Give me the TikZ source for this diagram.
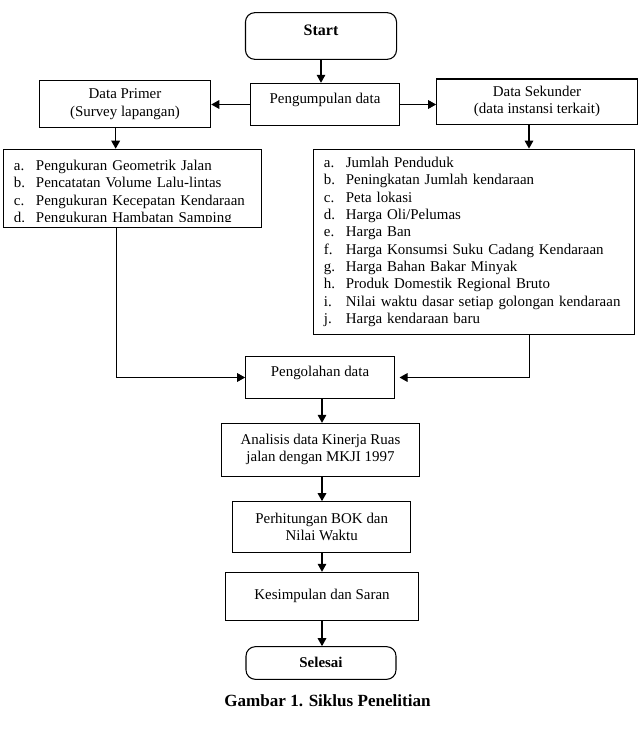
\documentclass[tikz,border=0pt]{standalone}
\usepackage{fontspec}
\setmainfont{Liberation Serif}
\usetikzlibrary{arrows.meta}
\newcommand{\itm}[2]{\makebox[16.5pt][l]{#1}#2}

\begin{document}
\begin{tikzpicture}[x=0.75pt,y=-0.75pt,
  every node/.style={font=\fontsize{11.2}{13}\selectfont},
  box/.style={draw,line width=0.8pt,inner sep=0pt,align=center},
  rbox/.style={box,rounded corners=7pt},
  listbox/.style={inner xsep=8pt,inner ysep=0pt,align=left},
  arr/.style={line width=0.8pt,-{Triangle[length=6pt,width=6.5pt]}}]
  \useasboundingbox (0,0) rectangle (641,732);

  \node[rbox,minimum width=113.3pt,minimum height=35pt,text height=8pt,text depth=8.5pt,
    font=\fontsize{12}{14}\selectfont\bfseries] (start) at (321,36) {Start};
  \node[box,minimum width=111.5pt,minimum height=31.8pt,text height=8pt,text depth=9.2pt] (peng) at (325,104.5) {Pengumpulan data};
  \node[box,minimum width=128.6pt,minimum height=35.3pt] (primer) at (125,104.2) {Data Primer\\(Survey lapangan)};
  \node[box,minimum width=150.5pt,minimum height=33.8pt] (sekunder) at (537,101.5) {Data Sekunder\\(data instansi terkait)};

  \node[box,minimum width=193.8pt,minimum height=58.7pt] (listA) at (132.5,188.4) {};
  \begin{scope}
    \clip (listA.north west) rectangle ([yshift=4.9pt]listA.south east);
    \node[listbox,text width=177.8pt] (listAtext) at (132.5,193) {
      \itm{a.}{Pengukuran Geometrik Jalan}\\
      \itm{b.}{Pencatatan Volume Lalu-lintas}\\
      \itm{c.}{Pengukuran Kecepatan Kendaraan}\\
      \itm{d.}{Pengukuran Hambatan Samping}};
  \end{scope}

  \node[box,listbox,minimum width=240.8pt,minimum height=139.3pt,text width=224.8pt] (listB) at (473.8,242) {
    \itm{a.}{Jumlah Penduduk}\\
    \itm{b.}{Peningkatan Jumlah kendaraan}\\
    \itm{c.}{Peta lokasi}\\
    \itm{d.}{Harga Oli/Pelumas}\\
    \itm{e.}{Harga Ban}\\
    \itm{f.}{Harga Konsumsi Suku Cadang Kendaraan}\\
    \itm{g.}{Harga Bahan Bakar Minyak}\\
    \itm{h.}{Produk Domestik Regional Bruto}\\
    \itm{i.}{Nilai waktu dasar setiap golongan kendaraan}\\
    \itm{j.}{Harga kendaraan baru}};

  \node[box,minimum width=111.5pt,minimum height=31.2pt,text height=8pt,text depth=8.8pt] (olah) at (320,377.5) {Pengolahan data};
  \node[box,minimum width=148.2pt,minimum height=39.5pt] (analisis) at (320.5,449.7) {Analisis data Kinerja Ruas\\jalan dengan MKJI 1997};
  \node[box,minimum width=133.5pt,minimum height=38pt] (hitung) at (321.7,527) {Perhitungan BOK dan\\Nilai Waktu};
  \node[box,minimum width=144.5pt,minimum height=35.8pt,text height=8pt,text depth=2.5pt] (simpul) at (322,596.2) {Kesimpulan dan Saran};
  \node[rbox,minimum width=112.5pt,minimum height=24.5pt,text height=8pt,text depth=1pt,
    font=\fontsize{11.2}{13}\selectfont\bfseries] (selesai) at (321,663) {Selesai};

  \node[font=\fontsize{12.8}{15}\selectfont\bfseries] (judul) at (327.5,701) {Gambar 1. Siklus Penelitian};

  \draw[arr] (start.south) -- (start.south |- peng.north);
  \draw[arr] (peng.west) -- (peng.west -| primer.east);
  \draw[arr] (peng.east) -- (peng.east -| sekunder.west);
  \draw[arr] ([xshift=-7pt]primer.south) -- ([xshift=-7pt]primer.south |- listA.north);
  \draw[arr] ([xshift=-6pt]sekunder.south) -- ([xshift=-6pt]sekunder.south |- listB.north);
  \draw[arr] ([xshift=-11.9pt]listA.south) |- (olah.west);
  \draw[arr,shorten >=3.5pt] ([xshift=41.6pt]listB.south) |- (olah.east);
  \draw[arr] ([xshift=1.5pt]olah.south) -- ([xshift=1.5pt]olah.south |- analisis.north);
  \draw[arr] ([xshift=1.5pt]olah.south |- analisis.south) -- ([xshift=1.5pt]olah.south |- hitung.north);
  \draw[arr] ([xshift=1.5pt]olah.south |- hitung.south) -- ([xshift=1.5pt]olah.south |- simpul.north);
  \draw[arr] ([xshift=1.5pt]olah.south |- simpul.south) -- ([xshift=1.5pt]olah.south |- selesai.north);
\end{tikzpicture}
\end{document}
